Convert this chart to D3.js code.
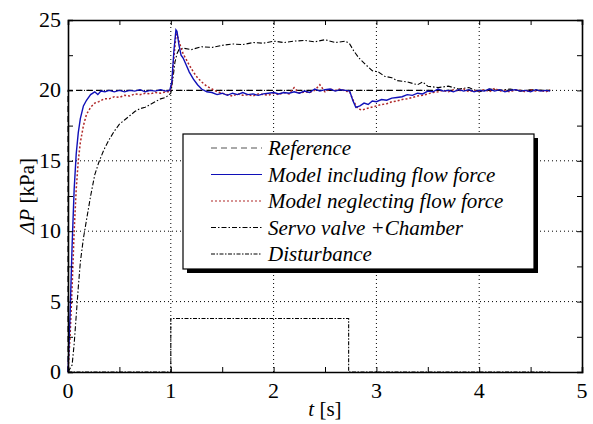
<!DOCTYPE html>
<html>
<head>
<meta charset="utf-8">
<script src="https://cdn.jsdelivr.net/npm/d3@7"></script>
</head>
<body style="margin:0">
<div id="chart"></div>
<script>
// ---------------------- DATA ----------------------
var xTicks = [0, 1, 2, 3, 4, 5];
var yTicks = [0, 5, 10, 15, 20, 25];

var refT = [0, 0, 4.69];
var refV = [0, 20, 20];

var withT = [0,0.02,0.04,0.06,0.08,0.10,0.12,0.15,0.18,0.22,0.26,0.29,0.32,0.36,0.40,0.45,0.50,0.55,0.60,0.65,0.70,0.75,0.80,0.85,0.90,0.95,0.99,1.01,1.03,1.05,1.06,1.08,1.10,1.12,1.15,1.18,1.22,1.26,1.30,1.35,1.40,1.45,1.50,1.55,1.60,1.65,1.70,1.75,1.80,1.85,1.90,1.95,2.00,2.05,2.10,2.15,2.20,2.25,2.30,2.35,2.40,2.45,2.50,2.55,2.60,2.65,2.70,2.74,2.77,2.80,2.84,2.88,2.92,2.96,3.00,3.05,3.10,3.15,3.20,3.25,3.30,3.35,3.40,3.45,3.50,3.55,3.60,3.65,3.70,3.75,3.80,3.85,3.90,3.95,4.00,4.05,4.10,4.15,4.20,4.25,4.30,4.35,4.40,4.45,4.50,4.55,4.60,4.65,4.69];
var withV = [0,4,9,13,15.5,17,18,18.9,19.3,19.7,19.9,19.7,19.95,19.9,20.0,19.9,20.0,19.9,20.0,19.95,20.05,19.9,20.0,19.95,20.05,19.95,20.0,20.6,22.8,24.3,24.2,23.2,22.5,22.3,21.8,21.3,20.8,20.4,20.1,19.9,19.85,19.7,19.8,19.65,19.8,19.7,19.85,19.7,19.75,19.65,19.75,19.8,19.85,19.75,19.85,19.8,19.9,19.8,19.95,19.85,20.1,19.95,20.05,20.1,19.95,20.05,20.0,19.95,19.3,18.8,18.9,19.1,19.0,19.25,19.2,19.35,19.3,19.45,19.5,19.55,19.7,19.65,19.8,19.75,19.95,19.9,20.1,19.95,20.0,19.9,20.05,19.95,20.05,19.9,20.0,19.95,20.1,19.95,20.05,19.9,20.0,20.05,19.95,20.0,19.9,20.05,19.95,20.0,19.95];

var neglT = [0,0.02,0.04,0.06,0.08,0.10,0.12,0.15,0.18,0.22,0.26,0.30,0.35,0.40,0.45,0.50,0.55,0.60,0.65,0.70,0.75,0.80,0.85,0.90,0.95,0.99,1.01,1.03,1.05,1.06,1.08,1.10,1.12,1.15,1.18,1.22,1.26,1.30,1.35,1.40,1.45,1.50,1.55,1.60,1.65,1.70,1.75,1.80,1.85,1.90,1.95,2.00,2.05,2.10,2.15,2.20,2.25,2.30,2.35,2.40,2.45,2.50,2.55,2.60,2.65,2.70,2.74,2.78,2.82,2.86,2.90,2.95,3.00,3.05,3.10,3.15,3.20,3.25,3.30,3.35,3.40,3.45,3.50,3.55,3.60,3.65,3.70,3.75,3.80,3.85,3.90,3.95,4.00,4.05,4.10,4.15,4.20,4.25,4.30,4.35,4.40,4.45,4.50,4.55,4.60,4.65,4.69];
var neglV = [0,2.5,6,10,13,15,16.3,17.5,18.3,18.8,19.1,19.2,19.4,19.4,19.55,19.5,19.65,19.6,19.75,19.7,19.8,19.75,19.85,19.8,19.9,19.9,20.4,22.3,23.9,24.0,23.5,23.0,22.6,22.2,21.8,21.3,20.9,20.6,20.3,20.1,19.9,19.8,19.7,19.6,19.75,19.65,19.7,19.6,19.75,19.7,19.65,19.8,19.7,19.85,19.75,20.2,19.8,19.9,19.85,20.0,20.4,19.9,20.1,20.0,20.1,19.95,19.9,19.2,18.7,18.6,18.7,18.8,18.9,19.0,19.05,19.2,19.25,19.35,19.4,19.5,19.6,19.65,19.75,19.85,19.9,20.0,19.9,20.05,19.95,20.1,19.9,20.0,19.95,20.05,19.9,20.15,19.95,20.0,19.9,20.05,20.0,19.9,20.05,19.95,20.0,19.9,20.05];

var servoT = [0,0.04,0.06,0.08,0.10,0.12,0.15,0.18,0.22,0.26,0.30,0.35,0.40,0.45,0.50,0.55,0.60,0.65,0.70,0.75,0.80,0.85,0.90,0.95,1.00,1.02,1.04,1.06,1.08,1.12,1.20,1.30,1.40,1.50,1.60,1.70,1.80,1.90,2.00,2.10,2.20,2.30,2.40,2.50,2.60,2.70,2.74,2.78,2.83,2.90,2.96,3.02,3.08,3.15,3.20,3.30,3.40,3.45,3.50,3.60,3.70,3.80,3.90,4.00,4.10,4.20,4.30,4.40,4.50,4.60,4.69];
var servoV = [0,0.5,2,4,6,7.8,9.5,10.8,12.5,14,14.9,15.8,16.5,17.1,17.6,17.9,18.2,18.5,18.7,18.8,19.0,19.2,19.4,19.5,19.8,20.8,22.0,22.6,22.9,23.0,22.9,23.1,23.05,23.2,23.3,23.25,23.4,23.35,23.5,23.4,23.5,23.55,23.45,23.6,23.4,23.5,23.3,22.8,22.3,21.8,21.4,21.3,21.0,20.9,20.7,20.6,20.4,20.6,20.3,20.2,20.3,20.1,20.2,19.9,20.1,20.0,20.1,19.95,20.05,20.0,20.0];

var distT = [0, 1, 1, 2.73, 2.73, 4.69];
var distV = [0, 0, 3.8, 3.8, 0, 0];

var legendLabels = ["Reference", "Model including flow force", "Model neglecting flow force", "Servo valve +Chamber", "Disturbance"];

// ---------------------- SVG & SCALES ----------------------
(function() {
    var width = 593,
        height = 424;
    var margin = {left: 68, right: 11, top: 20, bottom: 52};
    var serif = "Liberation Serif";

    // svg a touch shorter than the window, nothing is drawn in the last rows
    var svg = d3.select("#chart")
        .append("svg")
        .attr("width", width)
        .attr("height", height - 4);

    var x = d3.scaleLinear().domain([0, 5]).range([margin.left, width - margin.right]);
    var y = d3.scaleLinear().domain([0, 25]).range([height - margin.bottom, margin.top]);

    // line styles for each series
    var styles = [
        {color: "#000", dash: "6,4", w: 1.1},
        {color: "#1010b8", dash: null, w: 1.4},
        {color: "#b02828", dash: "2,2", w: 1.5},
        {color: "#000", dash: "5,2,1.5,2", w: 1.1},
        {color: "#000", dash: "4,1.5,1.5,1.5", w: 1.1}
    ];

// ---------------------- GRID ----------------------
    var grid = svg.append("g");
    grid.selectAll(".gx")
        .data([1, 2, 3, 4])
        .enter().append("line")
        .attr("x1", function(d) { return x(d); })
        .attr("x2", function(d) { return x(d); })
        .attr("y1", y(0))
        .attr("y2", y(25))
        .attr("stroke", "#000")
        .attr("stroke-width", 1)
        .attr("stroke-dasharray", "1,3");
    grid.selectAll(".gy")
        .data([5, 10, 15, 20])
        .enter().append("line")
        .attr("x1", x(0))
        .attr("x2", x(5))
        .attr("y1", function(d) { return y(d); })
        .attr("y2", function(d) { return y(d); })
        .attr("stroke", "#000")
        .attr("stroke-width", 1)
        .attr("stroke-dasharray", "1,3");

// ---------------------- LINES ----------------------
    var series = [
        [refT, refV], [withT, withV], [neglT, neglV], [servoT, servoV], [distT, distV]
    ];
    var line = d3.line()
        .x(function(d) { return x(d[0]); })
        .y(function(d) { return y(d[1]); });

    // draw disturbance, servo and reference under the models
    [4, 3, 0, 2, 1].forEach(function(i) {
        var pts = d3.zip(series[i][0], series[i][1]);
        svg.append("path")
            .datum(pts)
            .attr("d", line)
            .attr("fill", "none")
            .attr("stroke", styles[i].color)
            .attr("stroke-width", styles[i].w)
            .attr("stroke-dasharray", styles[i].dash);
    });

// ---------------------- AXES ----------------------
    // ticks drawn inside the frame on all four sides, labels added as plain text
    var xMinor = d3.range(0, 5.01, 0.5);
    var yMinor = d3.range(0, 25.01, 2.5);

    svg.append("g")
        .attr("transform", "translate(0," + y(0) + ")")
        .call(d3.axisBottom(x).tickValues(xMinor).tickSize(-5).tickFormat(""));
    svg.append("g")
        .attr("transform", "translate(0," + y(25) + ")")
        .call(d3.axisTop(x).tickValues(xMinor).tickSize(-5).tickFormat(""));
    svg.append("g")
        .attr("transform", "translate(" + x(0) + ",0)")
        .call(d3.axisLeft(y).tickValues(yMinor).tickSize(-5).tickFormat(""));
    svg.append("g")
        .attr("transform", "translate(" + x(5) + ",0)")
        .call(d3.axisRight(y).tickValues(yMinor).tickSize(-5).tickFormat(""));

    svg.selectAll(".domain").attr("stroke-width", 1.6).attr("stroke", "#000");
    svg.selectAll(".tick line").attr("stroke", "#000").attr("stroke-width", 1);

    svg.selectAll(".xlab")
        .data(xTicks)
        .enter().append("text")
        .attr("x", function(d) { return x(d); })
        .attr("y", y(0) + 26)
        .attr("text-anchor", "middle")
        .attr("font-family", serif)
        .attr("font-size", 22)
        .text(function(d) { return d; });

    svg.selectAll(".ylab")
        .data(yTicks)
        .enter().append("text")
        .attr("x", x(0) - 7)
        .attr("y", function(d) { return y(d) + 7; })
        .attr("text-anchor", "end")
        .attr("font-family", serif)
        .attr("font-size", 22)
        .text(function(d) { return d; });

    // axis titles
    var xt = svg.append("text")
        .attr("x", (x(0) + x(5)) / 2)
        .attr("y", 416)
        .attr("text-anchor", "middle")
        .attr("font-family", serif)
        .attr("font-size", 21);
    xt.append("tspan").attr("font-style", "italic").text("t");
    xt.append("tspan").text(" [s]");

    var yt = svg.append("text")
        .attr("transform", "translate(34," + (y(0) + y(25)) / 2 + ") rotate(-90)")
        .attr("text-anchor", "middle")
        .attr("font-family", serif)
        .attr("font-size", 21);
    yt.append("tspan").attr("font-style", "italic").text("ΔP");
    yt.append("tspan").text(" [kPa]");

// ---------------------- LEGEND ----------------------
    var lg = svg.append("g").attr("transform", "translate(183,134)");
    lg.append("rect")
        .attr("x", 4).attr("y", 4)
        .attr("width", 351).attr("height", 135)
        .attr("fill", "#000");
    lg.append("rect")
        .attr("width", 351).attr("height", 135)
        .attr("fill", "#fff")
        .attr("stroke", "#000")
        .attr("stroke-width", 1.2);

    legendLabels.forEach(function(lab, i) {
        var yy = 14 + i * 26.5;
        lg.append("line")
            .attr("x1", 28).attr("x2", 79)
            .attr("y1", yy).attr("y2", yy)
            .attr("stroke", i === 0 ? "#555" : styles[i].color)
            .attr("stroke-width", 1.2)
            .attr("stroke-dasharray", styles[i].dash);
        lg.append("text")
            .attr("x", 85)
            .attr("y", yy + 7)
            .attr("font-family", serif)
            .attr("font-style", "italic")
            .attr("font-size", 21)
            .text(lab);
    });
})();
</script>
</body>
</html>
